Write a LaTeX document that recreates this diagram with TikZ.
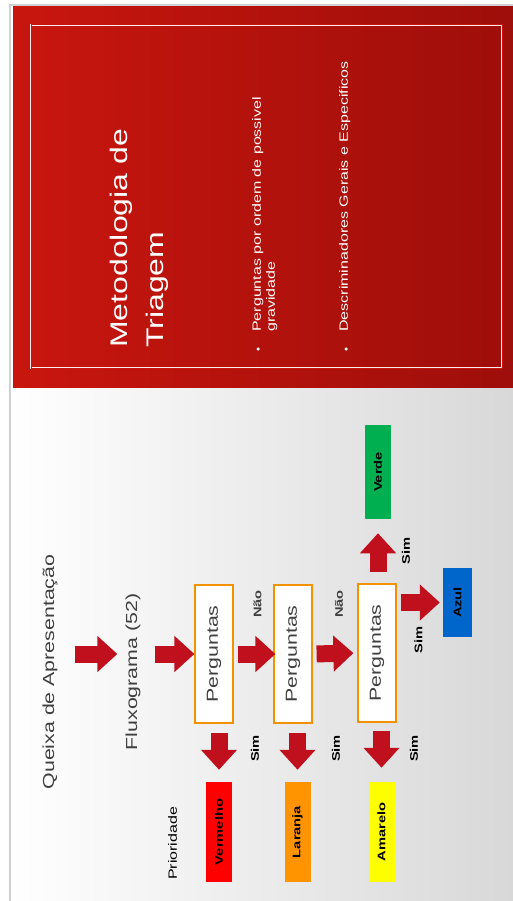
\documentclass[tikz,border=0pt]{standalone}
\usepackage{fontspec}
\setmainfont{Liberation Sans}
\usetikzlibrary{arrows.meta}
\definecolor{painel}{RGB}{200,22,14}
\definecolor{painelesc}{RGB}{158,14,10}
\definecolor{vinho}{RGB}{192,16,30}
\definecolor{borda}{RGB}{243,146,0}
\definecolor{texto}{RGB}{64,64,64}
\definecolor{vermelho}{RGB}{255,0,0}
\definecolor{laranja}{RGB}{255,148,0}
\definecolor{amarelo}{RGB}{255,255,0}
\definecolor{verde}{RGB}{0,176,80}
\definecolor{azul}{RGB}{0,102,204}
\definecolor{fundo}{RGB}{216,216,216}
\tikzset{
    vertical/.style={rotate=90,xscale=1.333,inner sep=0pt},
    pergunta/.style={vertical,draw=borda,line width=1.2pt,fill=white,
        minimum width=103.5pt,minimum height=38pt,text=texto,
        font=\fontsize{16}{19}\selectfont},
    prioridade/.style={vertical,fill=#1,minimum height=26pt,minimum width=75pt,
        font=\bfseries\fontsize{11}{13}\selectfont},
    rotulo/.style={vertical,font=\bfseries\fontsize{11}{13}\selectfont},
    setabloco/.style={vinho,line width=17pt,-{Triangle[width=35pt,length=20pt]},
        shorten <=4pt,shorten >=2pt}
}
\begin{document}
\begin{tikzpicture}[x=1pt,y=-1pt]
    \useasboundingbox (0,0) rectangle (513,901);
    %% Slide
    \fill[white] (0,0) rectangle (513,901);
    \shade[left color=white,right color=fundo] (10,5) rectangle (513,901);
    \draw[black!18,line width=1.5pt] (10,901) -- (10,5) -- (513,5);
    %% Red panel
    \shade[left color=painel,right color=painelesc] (13,7) rectangle (513,387);
    \draw[draw=white!92!painel,double=painel,double distance=1pt,line width=0.9pt]
        (31,25) rectangle (502,368);
    \node[vertical,anchor=north west,align=left,text=white,
        font=\fontsize{24}{36}\selectfont] (titulo) at (110,348)
        {Metodologia de\\Triagem};
    \node[circle,fill=white,inner sep=0pt,minimum size=3.5pt] (b1) at (258,349) {};
    \node[circle,fill=white,inner sep=0pt,minimum size=3.5pt] (b2) at (346,349) {};
    \node[vertical,anchor=north west,align=left,text=white,
        font=\fontsize{12}{14}\selectfont] (item1) at (252,332)
        {Perguntas por ordem de possivel\\gravidade};
    \node[vertical,anchor=north west,align=left,text=white,
        font=\fontsize{12}{14}\selectfont] (item2) at (339,332)
        {Descriminadores Gerais e Especificos};
    %% Flow
    \node[vertical,text=texto,font=\fontsize{16}{19}\selectfont]
        (queixa) at (50,672) {Queixa de Apresentação};
    \node[vertical,text=texto,font=\fontsize{16}{19}\selectfont]
        (fluxo) at (133,672) {Fluxograma (52)};
    \node[pergunta] (p1) at (214,654) {Perguntas};
    \node[pergunta] (p2) at (293,654) {Perguntas};
    \node[pergunta] (p3) at (377,653) {Perguntas};
    %% Priorities
    \node[vertical,font=\fontsize{12}{14}\selectfont] (prio) at (172.5,843.5) {Prioridade};
    \node[prioridade=vermelho] (verm) at (219,832) {Vermelho};
    \node[prioridade=laranja] (lar) at (297.5,832) {Laranja};
    \node[prioridade=amarelo] (amar) at (381.5,832) {Amarelo};
    \node[prioridade=verde,minimum width=70.5pt] (verd) at (378,472) {Verde};
    \node[prioridade=azul,minimum height=29pt,minimum width=51.75pt]
        (azul) at (457.5,602.5) {Azul};
    %% Labels
    \node[rotulo,text=texto] (nao1) at (257.5,604) {Não};
    \node[rotulo,text=texto] (nao2) at (339,604) {Não};
    \node[rotulo] (sim1) at (255,748.5) {Sim};
    \node[rotulo] (sim2) at (336,748.5) {Sim};
    \node[rotulo] (sim3) at (414,748.5) {Sim};
    \node[rotulo] (sim4) at (406,551) {Sim};
    \node[rotulo] (sim5) at (418.5,640) {Sim};
    %% Arrows
    \draw[setabloco,shorten <=17pt,shorten >=8pt] (queixa.south |- p1) -- (fluxo.north |- p1);
    \draw[setabloco,shorten <=14pt,shorten >=0pt] (fluxo.south |- p1) -- (p1.north);
    \draw[setabloco,shorten >=-2pt] (p1.south) -- (p2.north);
    \draw[setabloco,shorten >=4pt] (p2.south) -- (p3.north);
    \draw[setabloco,shorten <=9pt,shorten >=12pt] (verm |- p1.west) -- (verm.east);
    \draw[setabloco,shorten <=9pt,shorten >=12pt] (lar |- p2.west) -- (lar.east);
    \draw[setabloco,shorten <=8pt,shorten >=14pt] (amar |- p3.west) -- (amar.east);
    \draw[setabloco,shorten <=11pt,shorten >=14pt] (verd |- p3.east) -- (verd.west);
    \draw[setabloco,shorten <=4pt,shorten >=3pt] (p3.south |- azul) -- (azul.north);
\end{tikzpicture}
\end{document}
